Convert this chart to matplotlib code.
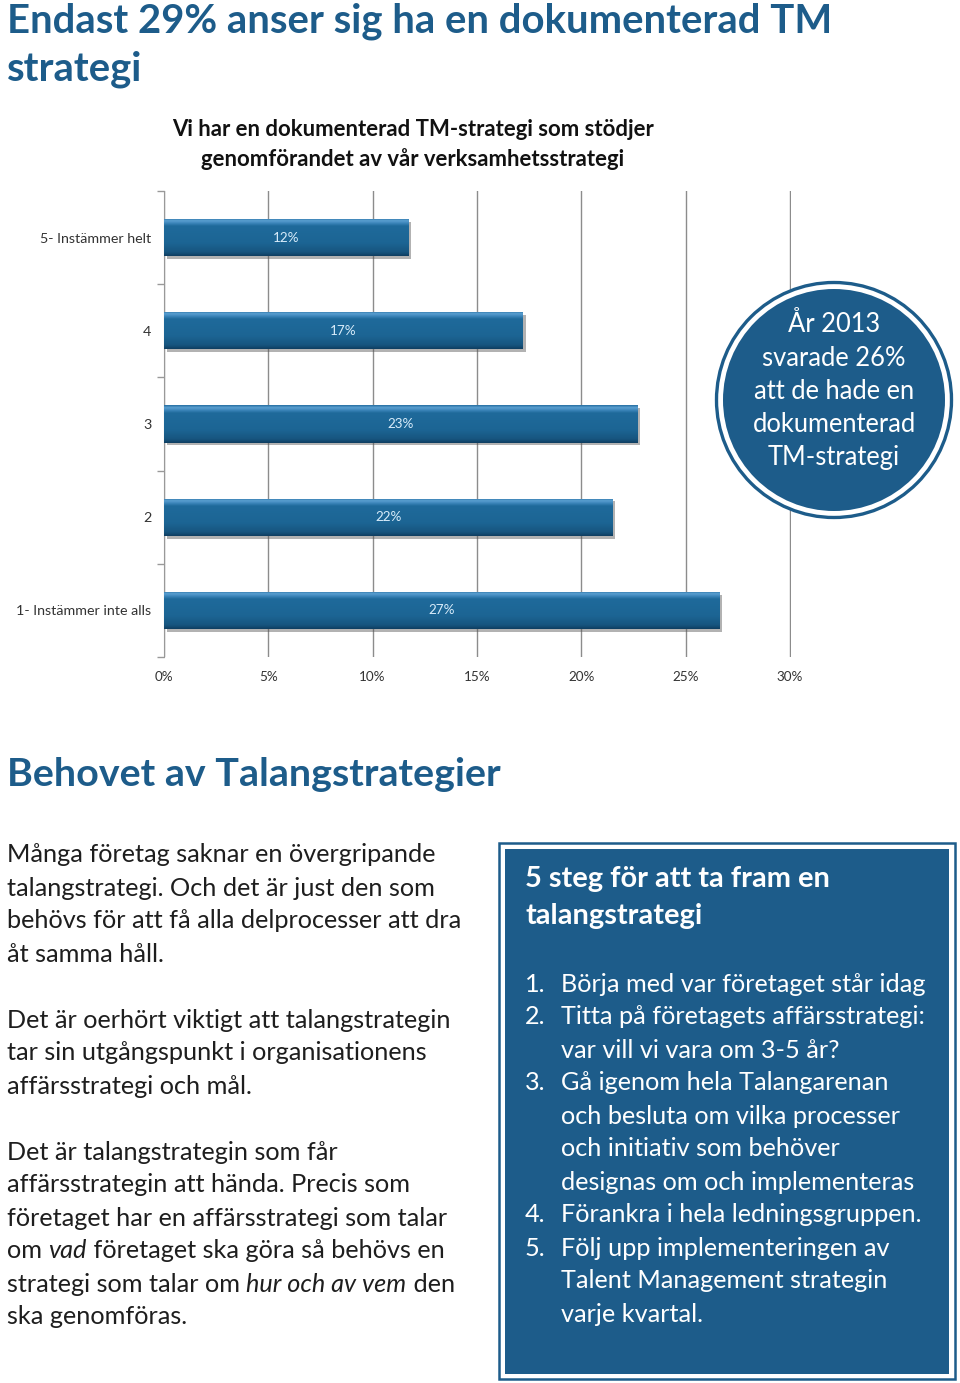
import matplotlib
matplotlib.use("Agg")
import matplotlib.pyplot as plt
import numpy as np
from matplotlib.patches import Circle, Rectangle
from matplotlib import patheffects as pe
from matplotlib.colors import LinearSegmentedColormap
from matplotlib.text import Annotation

# ---------------- data ----------------
categories = ["1- Instämmer inte alls", "2", "3", "4", "5- Instämmer helt"]
values = [26.6, 21.5, 22.7, 17.2, 11.7]          # percent, bar lengths
xticks = [0, 5, 10, 15, 20, 25, 30]
xtick_labels = ["0%", "5%", "10%", "15%", "20%", "25%", "30%"]

title = ["Endast 29% anser sig ha en dokumenterad TM", "strategi"]
chart_title = ["Vi har en dokumenterad TM-strategi som stödjer",
               "genomförandet av vår verksamhetsstrategi"]
circle_lines = ["År 2013", "svarade 26%", "att de hade en", "dokumenterad", "TM-strategi"]
heading2 = "Behovet av Talangstrategier"
body_lines = [
    [("Många företag saknar en övergripande", "normal")],
    [("talangstrategi. Och det är just den som", "normal")],
    [("behövs för att få alla delprocesser att dra", "normal")],
    [("åt samma håll.", "normal")],
    None,
    [("Det är oerhört viktigt att talangstrategin", "normal")],
    [("tar sin utgångspunkt i organisationens", "normal")],
    [("affärsstrategi och mål.", "normal")],
    None,
    [("Det är talangstrategin som får", "normal")],
    [("affärsstrategin att hända. Precis som", "normal")],
    [("företaget har en affärsstrategi som talar", "normal")],
    [("om ", "normal"), ("vad", "italic"), (" företaget ska göra så behövs en", "normal")],
    [("strategi som talar om ", "normal"), ("hur och av vem", "italic"), (" den", "normal")],
    [("ska genomföras.", "normal")],
]
box_title = ["5 steg för att ta fram en", "talangstrategi"]
box_items = [
    ("1.", ["Börja med var företaget står idag"]),
    ("2.", ["Titta på företagets affärsstrategi:", "var vill vi vara om 3-5 år?"]),
    ("3.", ["Gå igenom hela Talangarenan", "och besluta om vilka processer",
            "och initiativ som behöver", "designas om och implementeras"]),
    ("4.", ["Förankra i hela ledningsgruppen."]),
    ("5.", ["Följ upp implementeringen av", "Talent Management strategin",
            "varje kvartal."]),
]

# ---------------- style ----------------
W, H = 960, 1383
BLUE = "#1d5c8a"
BAR = "#1c6594"
FONT = "Lato"
plt.rcParams["font.family"] = [FONT, "DejaVu Sans"]

fig = plt.figure(figsize=(W / 100, H / 100), dpi=100)
fig.patch.set_facecolor("white")


def fx(px):
    return px / W


def fy(py):
    return 1 - py / H


def pt(px):
    return px * 0.72


# titles
for i, t in enumerate(title):
    fig.text(fx(7), fy(21 + 48 * i), t, fontsize=pt(40), fontweight="bold",
             color=BLUE, va="center", ha="left")

for i, t in enumerate(chart_title):
    fig.text(fx(413), fy(130 + 29 * i), t, fontsize=pt(22.2), fontweight="bold",
             color="#111111", va="center", ha="center")

# ---------------- chart ----------------
ax = fig.add_axes([fx(164), fy(657), fx(791) - fx(164), (657 - 191) / H])
ypos = np.arange(len(categories))
bh = 0.40
ax.set_xlim(0, 30.05)
ax.set_ylim(-0.5, len(categories) - 0.5)

cmap = LinearSegmentedColormap.from_list(
    "bar", [(0.0, "#0f3f62"), (0.10, "#17557f"), (0.35, BAR), (0.80, "#1f6a9b"),
            (0.88, "#3f88bd"), (0.94, "#5a9fd0"), (1.0, "#2a72a5")])
grad = np.linspace(0, 1, 64).reshape(-1, 1)

bars = ax.barh(ypos, values, height=bh, color=BAR, edgecolor="none", zorder=3)
for b, v in zip(bars, values):
    b.set_path_effects([pe.SimplePatchShadow(offset=(2, -2), shadow_rgbFace="#555555", alpha=0.45),
                        pe.Normal()])
    y0 = b.get_y()
    im = ax.imshow(grad, extent=(0, v, y0, y0 + bh), origin="lower", cmap=cmap,
                   aspect="auto", zorder=4, interpolation="bilinear")
    im.set_clip_path(b)
    ax.text(v / 2, y0 + bh / 2, f"{round(v)}%", color="#d8ecfa",
            fontsize=pt(13.5), ha="center", va="center", zorder=5)

ax.set_xticks(xticks)
ax.set_xticklabels(xtick_labels, fontsize=pt(13.5), color="#333333")
ax.tick_params(axis="x", length=0, pad=10)
ax.set_yticks(ypos)
ax.set_yticklabels(categories, fontsize=pt(14.2), color="#333333")
ax.tick_params(axis="y", which="major", length=0, pad=9)
ax.set_yticks(np.arange(-0.5, len(categories), 1.0), minor=True)
ax.tick_params(axis="y", which="minor", length=5, color="#999999", width=1)
ax.grid(axis="x", color="#8c8c8c", linewidth=1.0, zorder=0)
ax.set_axisbelow(True)
for s in ["top", "right", "bottom"]:
    ax.spines[s].set_visible(False)
ax.spines["left"].set_color("#999999")
ax.set_facecolor("none")

# ---------------- circle ----------------
tr = fig.dpi_scale_trans
cx, cy = 8.34, (H - 400) / 100
fig.patches.append(Circle((cx, cy), 1.175, transform=tr, facecolor="white",
                          edgecolor=BLUE, linewidth=2.4, zorder=10))
fig.patches.append(Circle((cx, cy), 1.11, transform=tr, facecolor=BLUE,
                          edgecolor="none", zorder=11))
for i, t in enumerate(circle_lines):
    fig.text(fx(834), fy(325 + 33.2 * i), t, fontsize=pt(25.5), color="white",
             ha="center", va="center", zorder=12)

# ---------------- heading 2 ----------------
fig.text(fx(7), fy(775), heading2, fontsize=pt(39.4), fontweight="bold",
         color=BLUE, va="center", ha="left")

# ---------------- body text ----------------
BODY = "#1e1e1e"
BFS = pt(25.3)
y = 855
for line in body_lines:
    if line is None:
        y += 33
        continue
    seg, style = line[0]
    prev = fig.text(fx(7), fy(y), seg, fontsize=BFS, color=BODY,
                    style=style, va="center", ha="left")
    for seg, style in line[1:]:
        prev = fig.add_artist(Annotation(seg, xy=(1, 0), xycoords=prev,
                                         fontsize=BFS, color=BODY,
                                         style=style, va="bottom", ha="left"))
    y += 33

# ---------------- box ----------------
fig.patches.append(Rectangle((4.99, (H - 1379) / 100), 4.56, (1379 - 843) / 100,
                             transform=tr, facecolor="white", edgecolor=BLUE,
                             linewidth=1.8, zorder=1))
fig.patches.append(Rectangle((5.05, (H - 1374) / 100), 4.44, (1374 - 849) / 100,
                             transform=tr, facecolor=BLUE, edgecolor="none", zorder=2))
for i, t in enumerate(box_title):
    fig.text(fx(525), fy(879 + 37 * i), t, fontsize=pt(29), fontweight="bold",
             color="white", ha="left", va="center", zorder=5)
y = 984
for num, lines in box_items:
    fig.text(fx(525), fy(y), num, fontsize=BFS, color="white",
             ha="left", va="center", zorder=5)
    for ln in lines:
        fig.text(fx(561), fy(y), ln, fontsize=BFS, color="white",
                 ha="left", va="center", zorder=5)
        y += 33

fig.savefig("out.png", dpi=100)
